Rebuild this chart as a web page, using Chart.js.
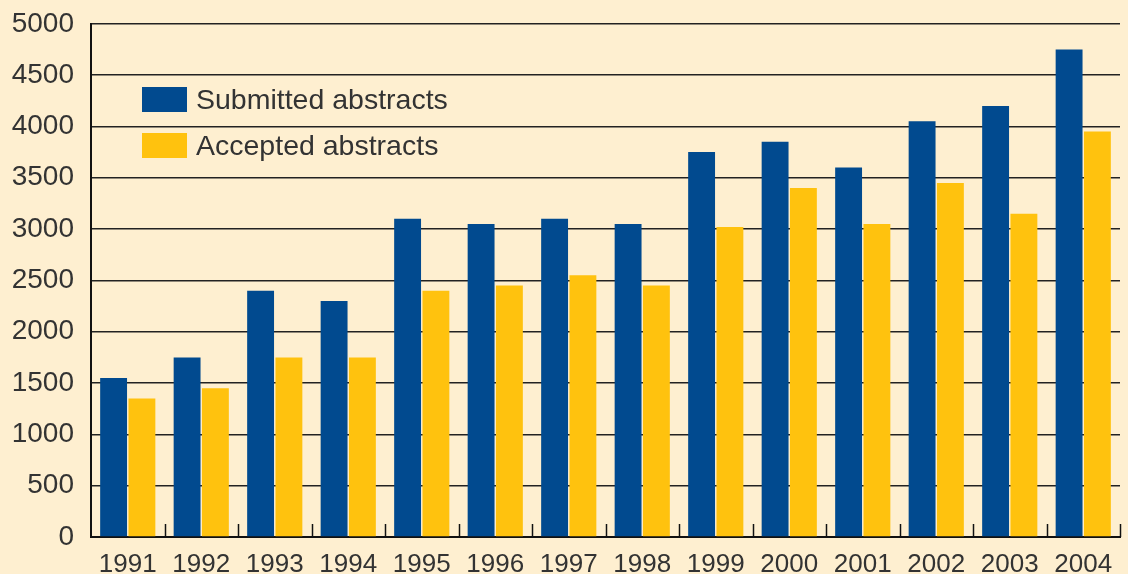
<!DOCTYPE html>
<html>
<head>
<meta charset="utf-8">
<script src="https://cdn.jsdelivr.net/npm/chart.js@4.4.1/dist/chart.umd.min.js"></script>
<style>
  body { margin: 0; background: #feefd0; overflow: hidden; }
  #wrap { position: relative; width: 1128px; height: 574px; background: #feefd0; overflow: hidden; }
  #box { position: absolute; left: 0; top: -10px; width: 1128px; height: 584px; }
  #legend { position: absolute; left: 142px; top: 87px; font-family: "Liberation Sans", Arial, sans-serif; font-size: 28.5px; color: #333; }
  .row { display: flex; align-items: center; height: 25px; margin-bottom: 21px; }
  .box { width: 45px; height: 25px; margin-right: 9px; }
</style>
</head>
<body>
<div id="wrap">
  <div id="box"><canvas id="chart"></canvas></div>
  <div id="legend"></div>
</div>
<script>
// data
const years = ['1991','1992','1993','1994','1995','1996','1997','1998','1999','2000','2001','2002','2003','2004'];
const submitted = [1550, 1750, 2400, 2300, 3100, 3050, 3100, 3050, 3750, 3850, 3600, 4050, 4200, 4750];
const accepted = [1350, 1450, 1750, 1750, 2400, 2450, 2550, 2450, 3020, 3400, 3050, 3450, 3150, 3950];
const seriesNames = ['Submitted abstracts', 'Accepted abstracts'];
const seriesColors = ['#014a8f', '#ffc20e'];

// little ticks pointing up from the x axis, between the years
const innerTicks = {
  id: 'innerTicks',
  afterDatasetsDraw(chart) {
    const x = chart.scales.x;
    const ctx = chart.ctx;
    const bottom = chart.chartArea.bottom;
    const step = x.getPixelForValue(1) - x.getPixelForValue(0);
    ctx.save();
    ctx.strokeStyle = '#111';
    ctx.lineWidth = 1.5;
    for (let i = 0; i < years.length; i++) {
      const px = Math.round(x.getPixelForValue(i) + step / 2) + 0.5;
      ctx.beginPath();
      ctx.moveTo(px, bottom);
      ctx.lineTo(px, bottom - 13);
      ctx.stroke();
    }
    ctx.restore();
  }
};

const ctx = document.getElementById('chart').getContext('2d');
new Chart(ctx, {
  type: 'bar',
  data: {
    labels: years,
    datasets: [
      { label: seriesNames[0], data: submitted, backgroundColor: seriesColors[0] },
      { label: seriesNames[1], data: accepted, backgroundColor: seriesColors[1] }
    ]
  },
  options: {
    responsive: true,
    maintainAspectRatio: false,
    animation: false,
    layout: { padding: { top: 9, right: 8, left: 0, bottom: 0 } },
    plugins: { legend: { display: false }, tooltip: { enabled: false } },
    datasets: { bar: { categoryPercentage: 0.77, barPercentage: 0.95 } },
    scales: {
      x: {
        grid: { display: false },
        border: { display: true, color: '#111', width: 2 },
        ticks: { color: '#333', font: { family: 'Liberation Sans, Arial, sans-serif', size: 26 }, padding: 4, maxRotation: 0, autoSkip: false },
        afterFit(s) { s.height = 37; }
      },
      y: {
        min: 0, max: 5000,
        grid: { color: '#222', lineWidth: 1.5, drawTicks: false },
        border: { display: true, color: '#111', width: 2 },
        ticks: {
          stepSize: 500, color: '#333', padding: 17,
          font: { family: 'Liberation Sans, Arial, sans-serif', size: 28 },
          callback: v => String(v)
        },
        afterFit(s) { s.width = 91; }
      }
    }
  },
  plugins: [innerTicks]
});

// legend drawn as html, placed inside the plot
const legend = document.getElementById('legend');
seriesNames.forEach((name, i) => {
  legend.innerHTML += `<div class="row"><div class="box" style="background:${seriesColors[i]}"></div><span>${name}</span></div>`;
});
</script>
</body>
</html>
